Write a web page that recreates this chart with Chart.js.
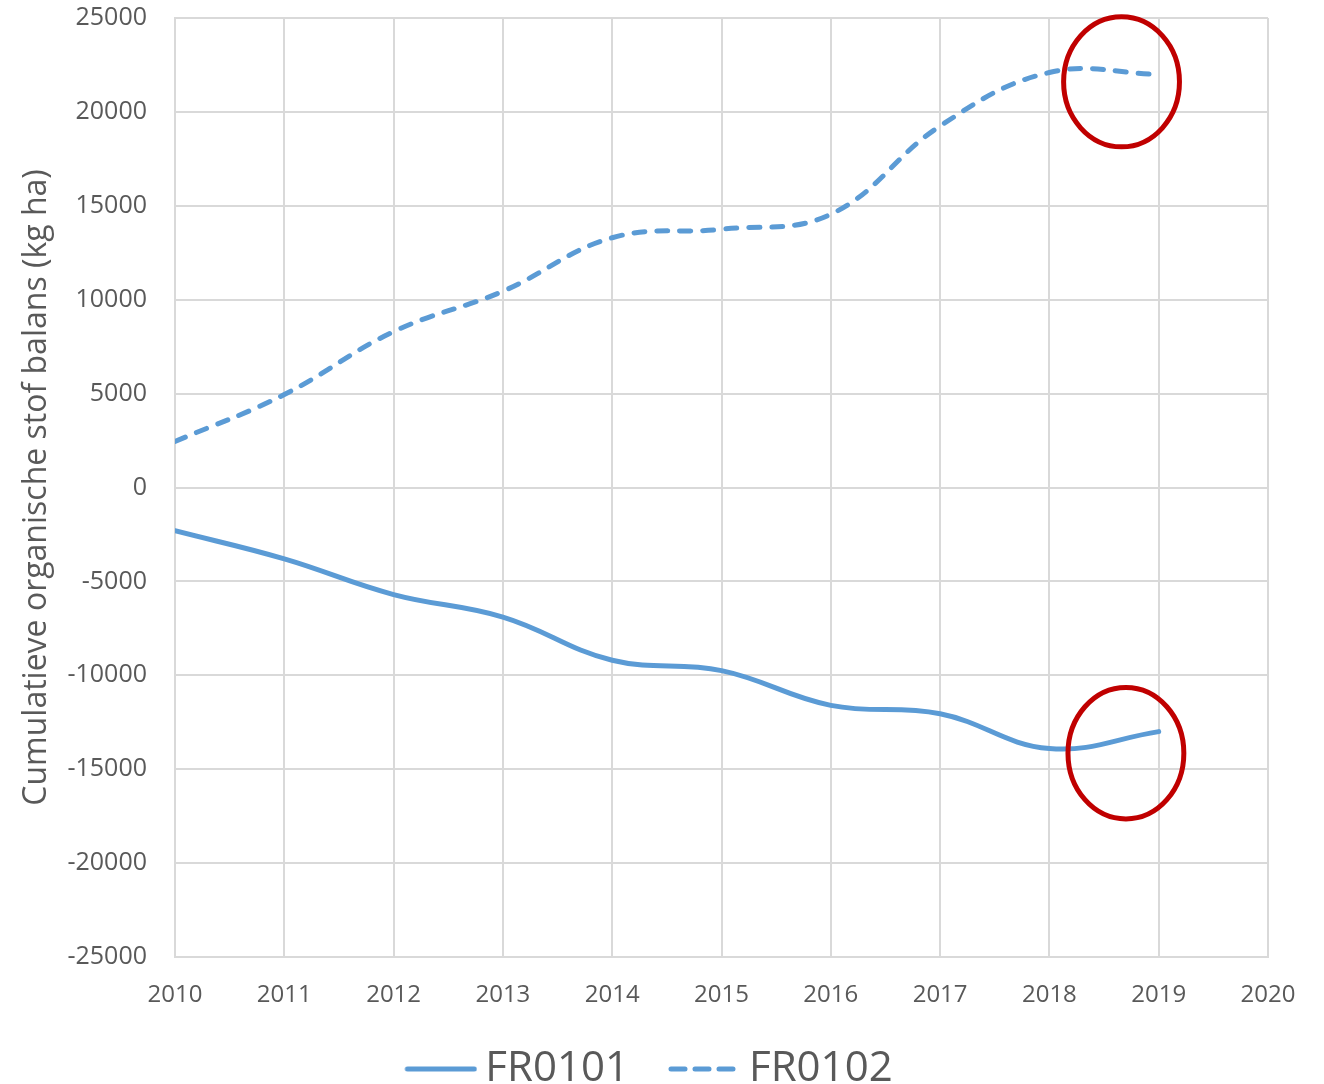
<!DOCTYPE html>
<html>
<head>
<meta charset="utf-8">
<script src="https://cdn.jsdelivr.net/npm/chart.js@4/dist/chart.umd.min.js"></script>
<style>
  html, body { margin: 0; padding: 0; background: #fff; }
  #wrap { width: 1324px; height: 1084px; }
</style>
</head>
<body>
<div id="wrap"><canvas id="myChart" width="1324" height="1084"></canvas></div>
<script>
// years on the x axis
var years = [2010, 2011, 2012, 2013, 2014, 2015, 2016, 2017, 2018, 2019];
// cumulative balance, kg/ha
var fr0101 = [-2300, -3800, -5700, -6900, -9200, -9750, -11600, -12050, -13900, -13000];
var fr0102 = [2450, 4950, 8300, 10450, 13300, 13750, 14550, 19250, 22100, 22000];
// red circles around the last segment: centre and half sizes in data units
var marks = [
    { x: 2018.66, y: 21600, dx: 0.53, dy: 3460 },
    { x: 2018.70, y: -14150, dx: 0.53, dy: 3500 }
];

var blue = '#5b9bd5';
var grey = '#595959';
var font = 'Open Sans';

function pts(vals) {
    return vals.map(function (v, i) { return { x: years[i], y: v }; });
}

// legend swatch: line sits in the right part of the image
function swatch(dash) {
    var c = document.createElement('canvas');
    c.width = 115; c.height = 8;
    var g = c.getContext('2d');
    g.strokeStyle = blue;
    g.lineWidth = 5;
    g.lineCap = 'round';
    g.setLineDash(dash);
    g.beginPath();
    g.moveTo(115 - 70, 4);
    g.lineTo(115 - 3, 4);
    g.stroke();
    return c;
}

// draws the red ellipses through the scales
var circles = {
    id: 'circles',
    afterDatasetsDraw: function (chart) {
        var ctx = chart.ctx, xs = chart.scales.x, ys = chart.scales.y;
        ctx.save();
        ctx.strokeStyle = '#c00000';
        ctx.lineWidth = 5;
        marks.forEach(function (m) {
            var cx = xs.getPixelForValue(m.x), cy = ys.getPixelForValue(m.y);
            var rx = Math.abs(xs.getPixelForValue(m.x + m.dx) - cx);
            var ry = Math.abs(ys.getPixelForValue(m.y + m.dy) - cy);
            ctx.beginPath();
            ctx.ellipse(cx, cy, rx, ry, 0, 0, Math.PI * 2);
            ctx.stroke();
        });
        ctx.restore();
    }
};

var ctx = document.getElementById('myChart').getContext('2d');
var myChart = new Chart(ctx, {
    type: 'line',
    data: {
        datasets: [{
            label: 'FR0101',
            data: pts(fr0101),
            borderColor: blue,
            backgroundColor: blue,
            borderWidth: 5,
            borderCapStyle: 'round',
            pointRadius: 0,
            pointStyle: swatch([]),
            tension: 0.4
        }, {
            label: 'FR0102',
            data: pts(fr0102),
            borderColor: blue,
            backgroundColor: blue,
            borderWidth: 5,
            borderDash: [11, 12],
            borderCapStyle: 'round',
            pointRadius: 0,
            pointStyle: swatch([14, 10]),
            tension: 0.4
        }]
    },
    options: {
        responsive: false,
        animation: false,
        layout: { padding: { left: 0, right: 56, top: 18, bottom: -16 } },
        plugins: {
            legend: {
                position: 'bottom',
                labels: {
                    usePointStyle: true,
                    boxWidth: 89,
                    pointStyleWidth: 89,
                    color: grey,
                    padding: 10,
                    font: { family: font, size: 42 }
                }
            },
            tooltip: { enabled: false }
        },
        scales: {
            x: {
                type: 'linear',
                min: 2010,
                max: 2020,
                grid: { color: '#d9d9d9', lineWidth: 2, drawTicks: false },
                border: { color: '#d9d9d9', width: 2 },
                ticks: {
                    stepSize: 1,
                    padding: 24,
                    color: grey,
                    font: { family: font, size: 24 },
                    callback: function (v) { return String(v); }
                },
                afterFit: function (s) { s.height = 81; s.paddingLeft = 0; s.paddingRight = 0; }
            },
            y: {
                min: -25000,
                max: 25000,
                grid: { color: '#d9d9d9', lineWidth: 2, drawTicks: false },
                border: { color: '#d9d9d9', width: 2 },
                ticks: {
                    stepSize: 5000,
                    padding: 28,
                    color: grey,
                    font: { family: font, size: 25 },
                    callback: function (v) { return String(v); }
                },
                title: {
                    display: true,
                    text: 'Cumulatieve organische stof balans (kg ha)',
                    color: grey,
                    font: { family: font, size: 32 },
                    padding: { top: 18, bottom: 0 }
                },
                afterFit: function (s) { s.width = 175; s.paddingTop = 0; s.paddingBottom = 0; }
            }
        }
    },
    plugins: [circles]
});
</script>
</body>
</html>
